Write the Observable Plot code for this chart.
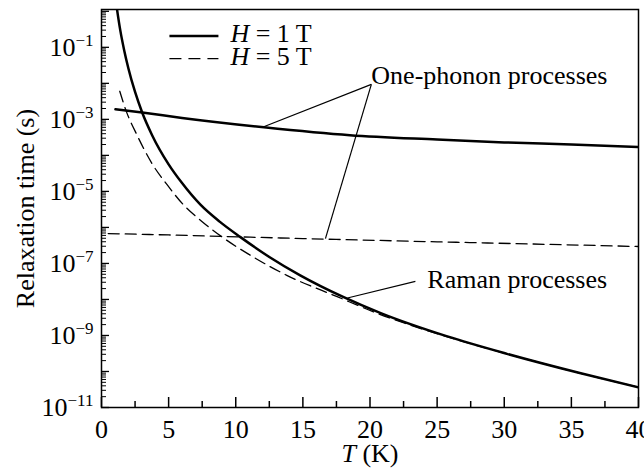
<!DOCTYPE html>
<html><head><meta charset="utf-8">
<script src="https://cdn.jsdelivr.net/npm/d3@7"></script>
<script src="https://cdn.jsdelivr.net/npm/@observablehq/plot@0.6"></script>
<style>
body{margin:0;background:#fff}
svg{display:block}
</style>
</head><body><div id="chart"></div>
<script>
// ---- data (log10 of relaxation time in s) ----
const ramanH1_T   = [1.12, 1.17, 1.4, 1.7, 2.0, 2.5, 3.03, 3.77, 5.0, 6.0, 7.37, 8.8, 10.35, 12.5, 14.8, 18.0, 20.8, 25.7, 30.2, 35.7, 40];
const ramanH1_log = [0.15, 0.02, -0.53, -1.10, -1.58, -2.24, -2.81, -3.44, -4.25, -4.77, -5.37, -5.84, -6.27, -6.82, -7.33, -7.93, -8.38, -9.02, -9.51, -10.05, -10.44];
const ramanH5_T   = [1.36, 1.8, 2.65, 3.8, 4.9, 6.1, 7.5, 9.0, 11.3, 13.8, 17.6, 20.5, 25.6, 30.2, 35.7, 40];
const ramanH5_log = [-2.22, -2.73, -3.44, -4.25, -4.82, -5.37, -5.84, -6.27, -6.82, -7.33, -7.93, -8.38, -9.02, -9.51, -10.05, -10.44];
const directH1_T   = [1.04, 3.03, 6, 12.1, 18.5, 25, 30, 35, 40];
const directH1_log = [-2.72, -2.81, -2.96, -3.22, -3.44, -3.56, -3.64, -3.70, -3.77];
const directH5_T   = [0.5, 5, 15, 25, 32, 40];
const directH5_log = [-6.17, -6.21, -6.31, -6.40, -6.46, -6.53];

// ticks
const xMajor = [0, 5, 10, 15, 20, 25, 30, 35, 40];
const xMinor = [2.5, 7.5, 12.5, 17.5, 22.5, 27.5, 32.5, 37.5];
const yMajorExp = [-11, -10, -9, -8, -7, -6, -5, -4, -3, -2, -1, 0];
const yLabelExp = [-11, -9, -7, -5, -3, -1];
const yMinorMant = [2, 3, 4, 5, 6, 7, 8, 9];

// legend
const legendLabels = ["H = 1 T", "H = 5 T"];
const legendLog = [-0.686, -1.314];
const legendT = [5.06, 8.71, 9.6];

// annotations
const annoLabels = ["One-phonon processes", "Raman processes"];
const annoT = [20.1, 24.27];
const annoLog = [-1.78, -7.44];
const leaderFromT = [20.1, 20.1, 23.38];
const leaderFromLog = [-2.03, -2.03, -7.5];
const leaderToT = [11.99, 16.68, 18.32];
const leaderToLog = [-3.22, -6.31, -7.96];

// ---- build ----
const rows = (T, L) => T.map((t, i) => ({T: t, tau: 10 ** L[i]}));
const yMinor = [];
for (let e = -11; e <= -1; e++) for (const m of yMinorMant) yMinor.push(m * 10 ** e);

const W = 644, H = 468, mL = 101, mR = 6, mT = 9, mB = 61;
const plotW = W - mL - mR, plotH = H - mT - mB;
const FONT = "Liberation Serif";
const solid = {stroke: "black", strokeWidth: 2.5, curve: "monotone-x", clip: true};
const dashed = {stroke: "black", strokeWidth: 1.3, strokeDasharray: "11,6", curve: "monotone-x", clip: true};
const txt = {fontSize: 26, fontFamily: FONT, fill: "black"};

const chart = Plot.plot({
  width: W, height: H,
  marginLeft: mL, marginRight: mR, marginTop: mT, marginBottom: mB,
  style: {fontFamily: FONT, fontSize: "26px", background: "white", color: "black", overflow: "visible"},
  x: {domain: [0, 40]},
  y: {type: "log", domain: [1e-11, 10 ** 0.05]},
  marks: [
    Plot.axisX({ticks: xMajor, tickSize: 0, tickPadding: 12, label: null, tickFormat: d => String(d), ...txt}),
    Plot.axisY({ticks: yLabelExp.map(e => 10 ** e), tickSize: 0, tickPadding: 8, label: null,
      tickFormat: d => "E" + Math.round(Math.log10(d)), ...txt}),
    Plot.tickX(xMajor, {x: d => d, insetTop: plotH - 10, stroke: "black", strokeWidth: 1.5}),
    Plot.tickX(xMinor, {x: d => d, insetTop: plotH - 6, stroke: "black", strokeWidth: 1.5}),
    Plot.tickY(yMajorExp.map(e => 10 ** e), {y: d => d, insetRight: plotW - 8, stroke: "black", strokeWidth: 1.3}),
    Plot.tickY(yMinor, {y: d => d, insetRight: plotW - 5, stroke: "black", strokeWidth: 1}),
    Plot.line(rows(directH5_T, directH5_log), {x: "T", y: "tau", ...dashed}),
    Plot.line(rows(ramanH5_T, ramanH5_log), {x: "T", y: "tau", ...dashed}),
    Plot.line(rows(directH1_T, directH1_log), {x: "T", y: "tau", ...solid}),
    Plot.line(rows(ramanH1_T, ramanH1_log), {x: "T", y: "tau", ...solid}),
    Plot.link(leaderFromT, {x1: d => d, y1: (d, i) => 10 ** leaderFromLog[i], x2: (d, i) => leaderToT[i], y2: (d, i) => 10 ** leaderToLog[i], stroke: "black", strokeWidth: 1.2}),
    Plot.text(annoLabels, {x: (d, i) => annoT[i], y: (d, i) => 10 ** annoLog[i], text: d => d, textAnchor: "start", lineAnchor: "middle", ...txt}),
    Plot.link([legendLog[0]], {x1: legendT[0], x2: legendT[1], y1: d => 10 ** d, y2: d => 10 ** d, stroke: "black", strokeWidth: 2.5}),
    Plot.link([legendLog[1]], {x1: legendT[0], x2: legendT[1], y1: d => 10 ** d, y2: d => 10 ** d, stroke: "black", strokeWidth: 1.3, strokeDasharray: "12,7"}),
    Plot.text(legendLabels, {x: legendT[2], y: (d, i) => 10 ** legendLog[i], text: d => d, textAnchor: "start", lineAnchor: "middle", dy: -2, ...txt}),
    Plot.frame({stroke: "black", strokeWidth: 1.5}),
    Plot.text(["Relaxation time (s)"], {frameAnchor: "left", rotate: -90, dx: -76, textAnchor: "middle", lineAnchor: "middle", ...txt}),
    Plot.text(["T (K)"], {frameAnchor: "bottom", dy: 46, textAnchor: "middle", lineAnchor: "middle", ...txt})
  ]
});

// rich text: superscripts and italics
const svg = d3.select(chart);
svg.attr("font-family", FONT);
svg.selectAll("g").filter(function () { return this.hasAttribute("font-family"); }).attr("font-family", FONT);
svg.selectAll("text").each(function () {
  const s = this.textContent;
  const sel = d3.select(this);
  sel.attr("font-family", FONT).style("font-family", FONT);
  let m = s.match(/^E(-?\d+)$/);
  if (m) {
    sel.text(null);
    sel.append("tspan").attr("font-family", FONT).text("10");
    sel.append("tspan").attr("font-family", FONT).attr("dy", "-10").attr("font-size", "17px").text(m[1].replace("-", "\u2212"));
    return;
  }
  m = s.match(/^(H|T)( .*)$/);
  if (m && (s.startsWith("H =") || s === "T (K)")) {
    sel.text(null);
    sel.append("tspan").attr("font-family", FONT).attr("font-style", "italic").text(m[1]);
    sel.append("tspan").attr("font-family", FONT).text(m[2]);
  }
});

document.getElementById("chart").appendChild(chart);
</script>
</body></html>
